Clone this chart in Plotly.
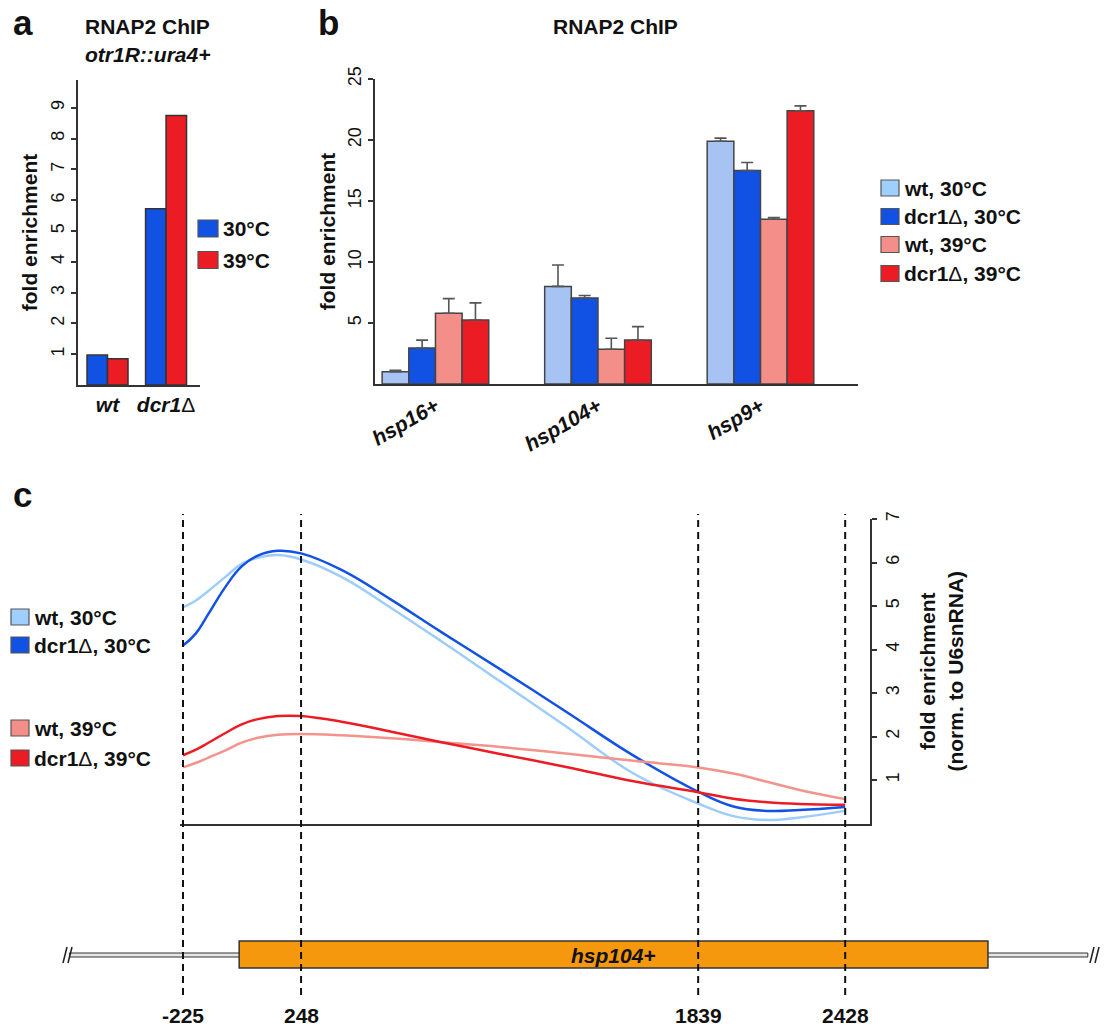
import plotly.graph_objects as go

W, H = 1104, 1028
FONT = "Liberation Sans, Arial, Helvetica, sans-serif"

# ---------------- data ----------------
# panel a
a_categories = ["wt", "dcr1Δ"]
a_series = ["30°C", "39°C"]
a_30 = [0.97, 5.72]
a_39 = [0.85, 8.75]

# panel b
b_genes = ["hsp16+", "hsp104+", "hsp9+"]
b_series = ["wt, 30°C", "dcr1Δ, 30°C", "wt, 39°C", "dcr1Δ, 39°C"]
b_wt30 = [1.0, 8.0, 19.9]
b_dcr30 = [2.95, 7.05, 17.5]
b_wt39 = [5.8, 2.85, 13.5]
b_dcr39 = [5.25, 3.6, 22.4]
b_wt30_err = [0.12, 1.75, 0.25]
b_dcr30_err = [0.65, 0.2, 0.65]
b_wt39_err = [1.2, 0.9, 0.15]
b_dcr39_err = [1.4, 1.1, 0.4]

# panel c
c_sites = [-225, 248, 1839, 2428]
c_pos = [-225, -175, -125, -55, 10, 75, 155, 248, 410, 610, 810, 1045, 1310, 1580,
         1839, 1980, 2115, 2245, 2428]
c_wt30 = [4.97, 5.12, 5.34, 5.67, 5.97, 6.11, 6.17, 6.07, 5.67, 4.95, 4.19, 3.27, 2.23,
          1.15, 0.46, 0.17, 0.08, 0.14, 0.29]
c_dcr30 = [4.09, 4.36, 4.80, 5.44, 5.91, 6.16, 6.27, 6.21, 5.83, 5.14, 4.40, 3.55, 2.57,
           1.56, 0.73, 0.39, 0.29, 0.31, 0.38]
c_wt39 = [1.29, 1.39, 1.51, 1.68, 1.86, 1.97, 2.04, 2.06, 2.03, 1.96, 1.87, 1.76, 1.61,
          1.44, 1.29, 1.15, 0.96, 0.77, 0.56]
c_dcr39 = [1.57, 1.69, 1.85, 2.08, 2.28, 2.40, 2.47, 2.47, 2.34, 2.11, 1.87, 1.60, 1.30,
           0.97, 0.72, 0.57, 0.49, 0.45, 0.43]
c_gene = "hsp104+"
c_gene_start, c_gene_end = 0, 3000
c_diagram_left, c_diagram_right = -680, 3400

# ---------------- styles ----------------
BAR_COL = {"wt, 30°C": "#A6C3F3", "dcr1Δ, 30°C": "#1152E4",
           "wt, 39°C": "#F38E88", "dcr1Δ, 39°C": "#EC1C24"}
LEG_COL = {"wt, 30°C": "#9FCFFF", "dcr1Δ, 30°C": "#1152E4",
           "wt, 39°C": "#F38E88", "dcr1Δ, 39°C": "#EC1C24"}
LINE_COL = {"wt, 30°C": "#9CCDFB", "dcr1Δ, 30°C": "#1152E4",
            "wt, 39°C": "#F3938C", "dcr1Δ, 39°C": "#EC1C24"}
A_COL = {"30°C": "#1152E4", "39°C": "#EC1C24"}
AX = "#333333"


def px(x):
    return x / W


def py(y):
    return 1 - y / H


def fmt_delta(s, upright=True):
    # render the Greek delta upright and in regular weight, as in the figure
    style = "font-weight:normal;" + ("font-style:normal;" if upright else "")
    return s.replace("Δ", "<span style='%s'>Δ</span>" % style)


# bp <-> pixel calibration for panel c
C_X0_PX, C_X0_BP, C_SCALE = 183.0, -225.0, 0.2496


def bp(xpix):
    return C_X0_BP + (xpix - C_X0_PX) / C_SCALE


fig = go.Figure()

# ---------- panel a ----------
for name, vals, off in [(a_series[0], a_30, -0.35), (a_series[1], a_39, 0.0)]:
    fig.add_trace(go.Bar(x=a_categories, y=vals, width=0.35, offset=off,
                         marker=dict(color=A_COL[name], line=dict(color=AX, width=1.5)),
                         name=name, showlegend=False, xaxis="x", yaxis="y"))

# ---------- panel b ----------
b_vals = [b_wt30, b_dcr30, b_wt39, b_dcr39]
b_errs = [b_wt30_err, b_dcr30_err, b_wt39_err, b_dcr39_err]
bw = 0.164
for i, (name, vals, err) in enumerate(zip(b_series, b_vals, b_errs)):
    fig.add_trace(go.Bar(x=b_genes, y=vals, width=bw, offset=-2 * bw + i * bw,
                         marker=dict(color=BAR_COL[name], line=dict(color="#444", width=1.5)),
                         error_y=dict(type="data", symmetric=False, array=err,
                                      arrayminus=[0] * len(err), color="#555",
                                      thickness=1.6, width=6),
                         name=name, showlegend=False, xaxis="x2", yaxis="y2"))

# ---------- panel c ----------
for name, vals in zip(b_series, [c_wt30, c_dcr30, c_wt39, c_dcr39]):
    fig.add_trace(go.Scatter(x=c_pos, y=vals, mode="lines",
                             line=dict(color=LINE_COL[name], width=2.5, shape="spline", smoothing=1.2),
                             name=name, showlegend=False, xaxis="x3", yaxis="y3"))

tick_font = dict(family=FONT, size=18, color="#111")
title_font = dict(family=FONT, size=21, color="#111", weight="bold")
cat_font = dict(family=FONT, size=21, color="#111", weight="bold", style="italic")

layout = dict(
    width=W, height=H, margin=dict(l=0, r=0, t=0, b=0, pad=0, autoexpand=False),
    paper_bgcolor="white", plot_bgcolor="white",
    barmode="overlay", showlegend=False,
    font=dict(family=FONT, color="#111"),
    xaxis=dict(domain=[px(78), px(200)], anchor="y", type="category", automargin=False,
               range=[-0.504, 1.58], showline=True, linecolor=AX, linewidth=2,
               tickvals=a_categories, ticktext=[fmt_delta(c) for c in a_categories],
               ticks="", showgrid=False, zeroline=False, tickfont=cat_font),
    yaxis=dict(domain=[py(385), py(80)], anchor="x", range=[0, 9.9], automargin=False,
               tickvals=list(range(1, 10)), tickangle=-90, ticks="outside",
               ticklen=5, tickwidth=2, tickcolor=AX, showline=True, linecolor=AX,
               linewidth=2, showgrid=False, zeroline=False, tickfont=tick_font,
               title=dict(text="fold enrichment", font=title_font, standoff=4)),
    xaxis2=dict(domain=[px(375), px(858)], anchor="y2", type="category", automargin=False,
                range=[-0.372, 2.6], showline=True, linecolor=AX, linewidth=2,
                ticks="", showgrid=False, zeroline=False, tickangle=-30,
                tickfont=cat_font),
    yaxis2=dict(domain=[py(384), py(79)], anchor="x2", range=[0, 25], automargin=False,
                tickvals=[5, 10, 15, 20, 25], tickangle=-90, ticks="outside",
                ticklen=5, tickwidth=2, tickcolor=AX, showline=True, linecolor=AX,
                linewidth=2, showgrid=False, zeroline=False, tickfont=tick_font,
                title=dict(text="fold enrichment", font=title_font, standoff=3)),
    xaxis3=dict(domain=[px(180), px(870)], anchor="y3", range=[bp(180), bp(870)],
                automargin=False, showline=True, linecolor=AX, linewidth=2, ticks="",
                showticklabels=False, showgrid=False, zeroline=False),
    yaxis3=dict(domain=[py(823.5), py(519)], anchor="x3", side="right", automargin=False,
                range=[0, 7], tickvals=list(range(1, 8)), tickangle=-90,
                ticks="outside", ticklen=5, tickwidth=2, tickcolor=AX,
                showline=True, linecolor=AX, linewidth=2, showgrid=False,
                zeroline=False, tickfont=tick_font,
                title=dict(text="fold enrichment<br>(norm. to U6snRNA)",
                           font=title_font, standoff=19)),
    xaxis4=dict(domain=[0, 1], anchor="y4", range=[bp(0), bp(W)], visible=False,
                automargin=False),
    yaxis4=dict(domain=[0, 0.05], anchor="x4", range=[0, 1], visible=False,
                automargin=False),
)

shapes = []
annotations = []


def text(x, y, s, size=21, bold=True, italic=False, xanchor="center", xref="paper"):
    annotations.append(dict(x=x, y=y, xref=xref, yref="paper", text=s, showarrow=False,
                            xanchor=xanchor, yanchor="middle",
                            font=dict(family=FONT, size=size, color="#111",
                                      weight="bold" if bold else "normal",
                                      style="italic" if italic else "normal")))


# panel letters and titles
text(px(11), py(22), "a", size=35, xanchor="left")
text(px(316), py(22), "b", size=35, xanchor="left")
text(px(11), py(494), "c", size=35, xanchor="left")
text(px(147), py(26), "RNAP2 ChIP")
text(px(147), py(54), "otr1R::ura4+", italic=True)
text(px(615), py(26), "RNAP2 ChIP")


def legend_item(x0, yc, w, h, color, label):
    shapes.append(dict(type="rect", xref="paper", yref="paper",
                       x0=px(x0), x1=px(x0 + w), y0=py(yc + h / 2), y1=py(yc - h / 2),
                       fillcolor=color, line=dict(color="#555", width=1.2)))
    text(px(x0 + w + 3), py(yc), fmt_delta(label, upright=False), xanchor="left")


# legend a
for name, yc in zip(a_series, [228.5, 260]):
    legend_item(198, yc, 20, 17, A_COL[name], name)
# legend b
for name, yc in zip(b_series, [188, 216.5, 244.5, 273.5]):
    legend_item(881, yc, 18, 16, LEG_COL[name], name)
# legend c
for name, yc in zip(b_series, [617, 645, 728, 758]):
    legend_item(11, yc, 18, 16, LEG_COL[name], name)

# dashed site lines
for s in c_sites:
    shapes.append(dict(type="line", xref="x4", yref="paper", x0=s, x1=s,
                       y0=py(995), y1=py(514), layer="above",
                       line=dict(color="#111", width=2, dash="7px,5px")))
    text(s, py(1015), str(s), xref="x4")

# gene line (double stroke look)
shapes.append(dict(type="rect", xref="x4", yref="paper", x0=c_diagram_left, x1=c_diagram_right,
                   y0=py(957), y1=py(953), fillcolor="#e6e6e6", line=dict(color="#333", width=1),
                   layer="below"))
# gene box
shapes.append(dict(type="rect", xref="x4", yref="paper", x0=c_gene_start, x1=c_gene_end,
                   y0=py(968), y1=py(941), fillcolor="#F5980D", line=dict(color="#333", width=1.5),
                   layer="below"))
text((c_gene_start + c_gene_end) / 2, py(955), c_gene, italic=True, xref="x4")

# break marks
for xb in [63, 68, 1090, 1095]:
    shapes.append(dict(type="line", xref="paper", yref="paper",
                       x0=px(xb), x1=px(xb + 4), y0=py(963), y1=py(947),
                       line=dict(color="#222", width=1.6)))

layout["shapes"] = shapes
layout["annotations"] = annotations
fig.update_layout(**layout)
fig.write_html("out.html", config={"displayModeBar": False},
               post_script="document.body.style.margin='0';")
